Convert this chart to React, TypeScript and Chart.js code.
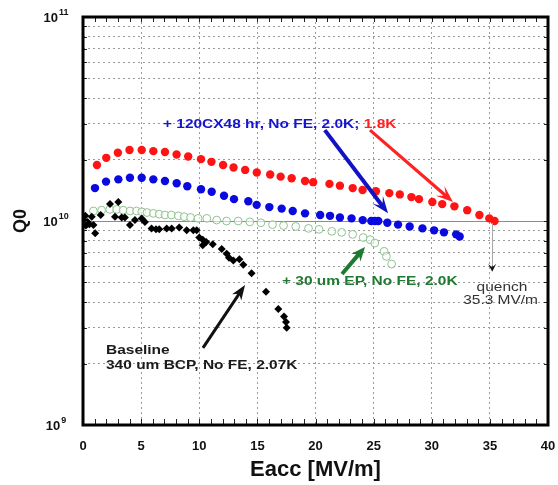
import React, { useEffect, useRef } from 'react';
import { Chart, registerables } from 'chart.js';

Chart.register(...registerables);

const FONT = "'Liberation Sans', Arial, Helvetica, sans-serif";

// Axis ranges and tick values
const X_MIN = 0;
const X_MAX = 40;
const X_STEP = 5;
const Y_MIN = 1e9;
const Y_MAX = 1e11;
const Y_MAJOR = [1e9, 1e10, 1e11];
const Y_EXPONENTS = ['9', '10', '11'];
const Y_GRID_MULTIPLES = [1, 2, 3, 4, 5, 6, 7, 8, 9];

// Baseline, 340 um BCP, No FE, 2.07K (black diamonds)
const baselineE = [0.05, 0.2, 0.25, 0.4, 0.55, 0.75, 0.9, 1.05, 1.52, 2.32, 2.75, 3.04, 3.33, 3.6, 4.04, 4.47, 5.05, 5.33, 5.9, 6.28, 6.56, 7.2, 7.63, 8.28, 8.92, 9.49, 9.78, 10.0, 10.3, 10.3, 10.6, 11.16, 11.93, 12.36, 12.56, 12.93, 13.45, 13.79, 14.5, 15.74, 16.8, 17.29, 17.46, 17.52];
const baselineQ = [1.01e10, 1.06e10, 0.95e10, 0.99e10, 0.965e10, 1.05e10, 0.955e10, 0.87e10, 1.07e10, 1.21e10, 1.05e10, 1.24e10, 1.04e10, 1.04e10, 0.955e10, 1.01e10, 1.03e10, 0.99e10, 0.92e10, 0.91e10, 0.91e10, 0.92e10, 0.92e10, 0.93e10, 0.9e10, 0.9e10, 0.9e10, 0.83e10, 0.81e10, 0.76e10, 0.79e10, 0.77e10, 0.73e10, 0.69e10, 0.66e10, 0.64e10, 0.65e10, 0.61e10, 0.555e10, 0.45e10, 0.37e10, 0.34e10, 0.32e10, 0.3e10];

// + 30 um EP, No FE, 2.0K (open green circles)
const epE = [0.9, 1.6, 2.3, 2.9, 3.45, 4.05, 4.6, 5.05, 5.5, 6.05, 6.55, 7.05, 7.6, 8.2, 8.7, 9.25, 9.9, 10.65, 11.5, 12.35, 13.35, 14.35, 15.3, 16.3, 17.25, 18.3, 19.4, 20.3, 21.4, 22.25, 23.2, 24.1, 24.7, 25.1, 25.9, 26.1, 26.55];
const epQ = [1.12e10, 1.13e10, 1.14e10, 1.14e10, 1.13e10, 1.12e10, 1.12e10, 1.11e10, 1.1e10, 1.09e10, 1.08e10, 1.07e10, 1.07e10, 1.06e10, 1.05e10, 1.04e10, 1.03e10, 1.03e10, 1.01e10, 1.0e10, 1.0e10, 0.99e10, 0.98e10, 0.96e10, 0.95e10, 0.94e10, 0.92e10, 0.91e10, 0.89e10, 0.88e10, 0.86e10, 0.83e10, 0.81e10, 0.78e10, 0.71e10, 0.67e10, 0.615e10];

// + 120C x 48 hr, No FE, 2.0K (blue dots)
const bake20E = [1.03, 1.98, 3.04, 4.04, 5.05, 6.05, 7.05, 8.06, 8.97, 10.15, 11.07, 12.13, 12.99, 14.22, 14.94, 16.03, 17.09, 18.04, 19.1, 20.4, 21.25, 22.1, 23.1, 24.06, 24.8, 25.1, 25.4, 26.18, 27.1, 28.1, 29.2, 30.2, 31.05, 32.1, 32.4];
const bake20Q = [1.45e10, 1.56e10, 1.6e10, 1.63e10, 1.63e10, 1.6e10, 1.57e10, 1.53e10, 1.48e10, 1.43e10, 1.39e10, 1.33e10, 1.28e10, 1.25e10, 1.2e10, 1.17e10, 1.15e10, 1.12e10, 1.09e10, 1.07e10, 1.06e10, 1.04e10, 1.03e10, 1.01e10, 1.0e10, 1.0e10, 1.0e10, 0.98e10, 0.96e10, 0.94e10, 0.92e10, 0.9e10, 0.88e10, 0.86e10, 0.84e10];

// + 120C x 48 hr, No FE, 1.8K (red dots)
const bake18E = [1.2, 2.0, 3.0, 4.0, 5.05, 6.05, 7.05, 8.05, 9.05, 10.15, 11.05, 12.05, 12.95, 13.95, 14.95, 16.1, 17.0, 17.95, 19.1, 19.8, 21.2, 22.1, 23.2, 24.05, 25.2, 26.35, 27.25, 28.25, 28.9, 30.05, 30.9, 31.95, 33.05, 34.1, 34.95, 35.4];
const bake18Q = [1.88e10, 2.04e10, 2.16e10, 2.23e10, 2.23e10, 2.2e10, 2.18e10, 2.12e10, 2.07e10, 2.01e10, 1.95e10, 1.88e10, 1.83e10, 1.78e10, 1.73e10, 1.69e10, 1.65e10, 1.62e10, 1.57e10, 1.55e10, 1.52e10, 1.49e10, 1.45e10, 1.42e10, 1.4e10, 1.37e10, 1.35e10, 1.31e10, 1.28e10, 1.24e10, 1.21e10, 1.18e10, 1.13e10, 1.07e10, 1.03e10, 1.0e10];

// Annotation texts
const LABEL_BAKE = '+ 120CX48 hr, No FE, 2.0K; ';
const LABEL_BAKE_18 = '1.8K';
const LABEL_EP = '+ 30 um EP, No FE, 2.0K';
const LABEL_BASE_1 = 'Baseline';
const LABEL_BASE_2 = '340 um BCP, No FE, 2.07K';
const LABEL_QUENCH_1 = 'quench';
const LABEL_QUENCH_2 = '35.3 MV/m';
const QUENCH_E = 35.2;

const pts = (xs: number[], ys: number[]) => xs.map((x, i) => ({ x, y: ys[i] }));

type Pt = [number, number];

function drawArrow(ctx: CanvasRenderingContext2D, from: Pt, to: Pt, color: string, lw: number, headLen: number, headW: number, notch: number) {
  const [x1, y1] = from;
  const [x2, y2] = to;
  const ang = Math.atan2(y2 - y1, x2 - x1);
  const c = Math.cos(ang);
  const s = Math.sin(ang);
  const nx = x2 - c * headLen * (1 - notch);
  const ny = y2 - s * headLen * (1 - notch);
  ctx.save();
  ctx.strokeStyle = color;
  ctx.fillStyle = color;
  ctx.lineWidth = lw;
  ctx.lineCap = 'butt';
  ctx.beginPath();
  ctx.moveTo(x1, y1);
  ctx.lineTo(nx + c * 1, ny + s * 1);
  ctx.stroke();
  const bx = x2 - c * headLen;
  const by = y2 - s * headLen;
  ctx.beginPath();
  ctx.moveTo(x2, y2);
  ctx.lineTo(bx - s * headW, by + c * headW);
  ctx.lineTo(nx, ny);
  ctx.lineTo(bx + s * headW, by - c * headW);
  ctx.closePath();
  ctx.fill();
  ctx.restore();
}

const SX = 1.19;

function stretchedText(ctx: CanvasRenderingContext2D, text: string, x: number, y: number, align: 'left' | 'center') {
  ctx.save();
  ctx.translate(x, y);
  ctx.scale(SX, 1);
  ctx.textAlign = align;
  ctx.textBaseline = 'middle';
  ctx.fillText(text, 0, 0);
  const w = ctx.measureText(text).width * SX;
  ctx.restore();
  return w;
}

export default function App() {
  const ref = useRef<HTMLCanvasElement>(null);

  useEffect(() => {
    const canvas = ref.current;
    if (!canvas) return;

    const deco = {
      id: 'deco',
      beforeDatasetsDraw(chart: any) {
        const { ctx, chartArea: a, scales } = chart;
        const y = scales.y;
        const py = Math.round(y.getPixelForValue(1e10)) + 0.5;
        ctx.save();
        ctx.strokeStyle = '#8c8c8c';
        ctx.lineWidth = 1;
        ctx.beginPath();
        ctx.moveTo(a.left, py);
        ctx.lineTo(a.right, py);
        ctx.stroke();
        ctx.restore();
      },
      afterDatasetsDraw(chart: any) {
        const { ctx, scales } = chart;
        const x = scales.x;
        const y = scales.y;
        const P = (e: number, q: number): Pt => [x.getPixelForValue(e), y.getPixelForValue(q)];

        // quench marker
        const q0 = P(QUENCH_E, 1e10);
        const q1 = P(QUENCH_E, 5.7e9);
        ctx.save();
        ctx.strokeStyle = '#a8a8a8';
        ctx.lineWidth = 1;
        ctx.beginPath();
        ctx.moveTo(Math.round(q0[0]) + 0.5, q0[1] + 2);
        ctx.lineTo(Math.round(q0[0]) + 0.5, q1[1] - 4);
        ctx.stroke();
        ctx.restore();
        drawArrow(ctx, [q1[0], q1[1] - 5], [q1[0], q1[1] + 1], '#111', 1, 8, 4, 0.45);

        // arrows
        drawArrow(ctx, P(20.8, 2.79e10), P(26.24, 1.09e10), '#1212c4', 4, 17, 6.5, 0.45);
        drawArrow(ctx, P(24.69, 2.79e10), P(31.83, 1.24e10), '#ff2222', 3.2, 17, 6.5, 0.45);
        drawArrow(ctx, P(22.28, 5.5e9), P(24.26, 7.46e9), '#1e7a30', 4, 14, 6, 0.3);
        drawArrow(ctx, P(10.32, 2.39e9), P(13.94, 4.86e9), '#111', 3, 15, 5.5, 0.3);

        // texts
        ctx.save();
        ctx.font = `bold 13px ${FONT}`;
        const b = P(6.88, 2.99e10);
        ctx.fillStyle = '#1515cc';
        const w = stretchedText(ctx, LABEL_BAKE, b[0], b[1], 'left');
        ctx.fillStyle = '#ff2020';
        stretchedText(ctx, LABEL_BAKE_18, b[0] + w, b[1], 'left');

        const g = P(17.12, 5.03e9);
        ctx.fillStyle = '#1e7a30';
        stretchedText(ctx, LABEL_EP, g[0], g[1], 'left');

        ctx.fillStyle = '#1a1a1a';
        const bl1 = P(1.98, 2.33e9);
        const bl2 = P(1.98, 1.95e9);
        stretchedText(ctx, LABEL_BASE_1, bl1[0], bl1[1], 'left');
        stretchedText(ctx, LABEL_BASE_2, bl2[0], bl2[1], 'left');

        ctx.font = `13px ${FONT}`;
        ctx.fillStyle = '#333';
        const qt1 = P(36.04, 4.74e9);
        const qt2 = P(35.92, 4.1e9);
        stretchedText(ctx, LABEL_QUENCH_1, qt1[0], qt1[1], 'center');
        stretchedText(ctx, LABEL_QUENCH_2, qt2[0], qt2[1], 'center');
        ctx.restore();
      },
      afterDraw(chart: any) {
        const { ctx, chartArea: a, scales } = chart;
        const x = scales.x;
        const y = scales.y;
        ctx.save();
        // minor ticks
        ctx.strokeStyle = '#222';
        ctx.lineWidth = 1;
        ctx.beginPath();
        for (let v = X_MIN + 1; v < X_MAX; v++) {
          const px = Math.round(x.getPixelForValue(v)) + 0.5;
          ctx.moveTo(px, a.bottom);
          ctx.lineTo(px, a.bottom - 6);
          ctx.moveTo(px, a.top);
          ctx.lineTo(px, a.top + 5);
        }
        for (const t of y.ticks) {
          if (t.value <= Y_MIN || t.value >= Y_MAX) continue;
          const py = Math.round(y.getPixelForValue(t.value)) + 0.5;
          ctx.moveTo(a.right, py);
          ctx.lineTo(a.right - 4, py);
          ctx.moveTo(a.left, py);
          ctx.lineTo(a.left + 4, py);
        }
        ctx.stroke();
        // frame
        ctx.strokeStyle = '#000';
        ctx.lineWidth = 3;
        ctx.strokeRect(a.left, a.top, a.right - a.left, a.bottom - a.top);
        // y labels 10^n
        ctx.fillStyle = '#111';
        ctx.textBaseline = 'middle';
        Y_MAJOR.forEach((v, i) => {
          const py = y.getPixelForValue(v);
          ctx.font = `bold 13px ${FONT}`;
          const wb = ctx.measureText('10').width;
          ctx.font = `bold 9px ${FONT}`;
          const we = ctx.measureText(Y_EXPONENTS[i]).width;
          const total = wb + 1 + we;
          const left = 56 - total / 2;
          ctx.font = `bold 13px ${FONT}`;
          ctx.textAlign = 'left';
          ctx.fillText('10', left, py + 1.5);
          ctx.font = `bold 9px ${FONT}`;
          ctx.fillText(Y_EXPONENTS[i], left + wb + 1, py - 4.5);
        });
        ctx.restore();
      },
    };

    const yGrid: number[] = [];
    for (let e = 9; e <= 11; e++) {
      for (const m of Y_GRID_MULTIPLES) {
        const v = m * Math.pow(10, e);
        if (v >= Y_MIN && v <= Y_MAX) yGrid.push(v);
      }
    }

    const chart = new Chart(canvas, {
      type: 'scatter',
      data: {
        datasets: [
          {
            label: 'Baseline 340 um BCP, No FE, 2.07K',
            data: pts(baselineE, baselineQ),
            pointStyle: 'rectRot',
            pointRadius: 4,
            backgroundColor: '#000',
            borderColor: '#000',
            borderWidth: 0,
            order: 1,
          },
          {
            label: '+ 30 um EP, No FE, 2.0K',
            data: pts(epE, epQ),
            pointStyle: 'circle',
            pointRadius: 3.9,
            backgroundColor: 'rgba(255,255,255,0.6)',
            borderColor: '#8fc28f',
            borderWidth: 1,
            order: 2,
          },
          {
            label: '+ 120CX48 hr, No FE, 2.0K',
            data: pts(bake20E, bake20Q),
            pointStyle: 'circle',
            pointRadius: 4.2,
            backgroundColor: '#0a0ae0',
            borderColor: '#0a0ae0',
            borderWidth: 0,
            order: 3,
          },
          {
            label: '+ 120CX48 hr, No FE, 1.8K',
            data: pts(bake18E, bake18Q),
            pointStyle: 'circle',
            pointRadius: 4.2,
            backgroundColor: '#ff1414',
            borderColor: '#ff1414',
            borderWidth: 0,
            order: 4,
          },
        ],
      },
      options: {
        animation: false,
        responsive: false,
        devicePixelRatio: 1,
        layout: { padding: { left: 0, right: 10, top: 17, bottom: 0 } },
        plugins: { legend: { display: false }, tooltip: { enabled: false } },
        scales: {
          x: {
            type: 'linear',
            min: X_MIN,
            max: X_MAX,
            ticks: {
              stepSize: X_STEP,
              maxRotation: 0,
              autoSkip: false,
              padding: 14,
              color: '#111',
              font: { family: FONT, size: 13, weight: 'bold' },
            },
            grid: {
              drawTicks: false,
              lineWidth: 1,
              color: (c: any) => (c.tick && c.tick.value > X_MIN && c.tick.value < X_MAX ? '#9a9a9a' : 'rgba(0,0,0,0)'),
            },
            border: { display: false, dash: [2, 3] },
            title: {
              display: true,
              text: 'Eacc [MV/m]',
              color: '#111',
              font: { family: FONT, size: 22, weight: 'bold' },
              padding: { top: 0, bottom: 2 },
            },
            afterFit: (s: any) => {
              s.height = 60;
              s.paddingLeft = 0;
              s.paddingRight = 0;
            },
          },
          y: {
            type: 'logarithmic',
            min: Y_MIN,
            max: Y_MAX,
            afterBuildTicks: (s: any) => {
              s.ticks = yGrid.map((v) => ({ value: v, major: Y_MAJOR.includes(v) }));
            },
            ticks: { display: false },
            grid: {
              drawTicks: false,
              lineWidth: 1,
              color: (c: any) => (c.tick && !Y_MAJOR.includes(c.tick.value) ? '#9a9a9a' : 'rgba(0,0,0,0)'),
            },
            border: { display: false, dash: [2, 3] },
            title: {
              display: true,
              text: 'Q0',
              color: '#111',
              font: { family: FONT, size: 18, weight: 'bold' },
              padding: { top: 10, bottom: 0 },
            },
            afterFit: (s: any) => {
              s.width = 83;
              s.paddingTop = 0;
              s.paddingBottom = 0;
            },
          },
        },
      },
      plugins: [deco],
    } as any);

    return () => chart.destroy();
  }, []);

  return (
    <div style={{ position: 'fixed', left: 0, top: 0, width: 558, height: 485, background: '#fff' }}>
      <canvas ref={ref} width={558} height={485} style={{ width: 558, height: 485, display: 'block' }} />
    </div>
  );
}
